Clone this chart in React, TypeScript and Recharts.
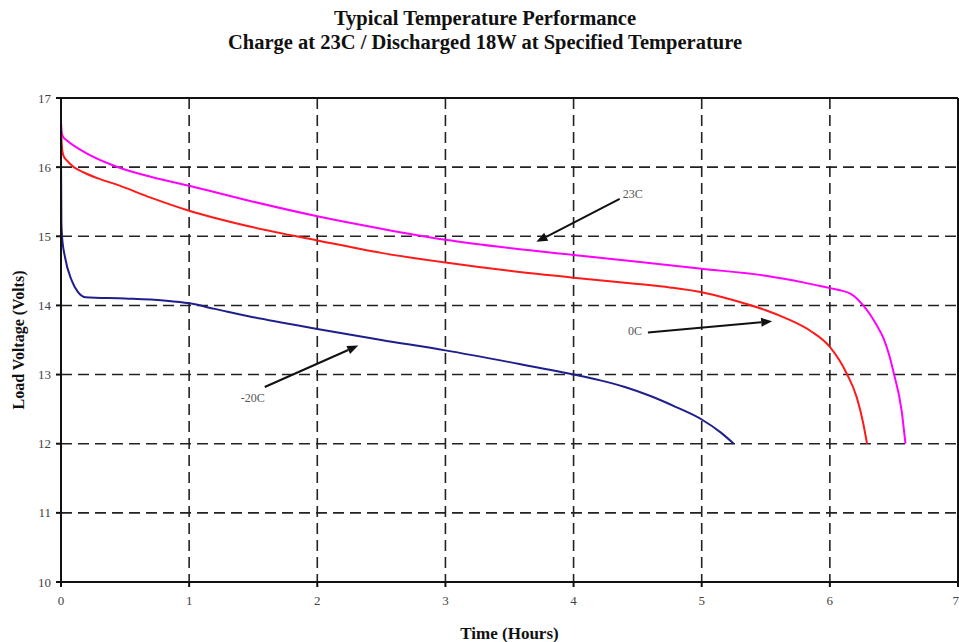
import { CartesianGrid, Line, LineChart, ReferenceLine, XAxis, YAxis } from "recharts"

// 23C discharge
const hours23 = [0, 0.005, 0.02, 0.044, 0.2, 0.43, 0.7, 1.0, 1.5, 2.0, 2.5, 3.0, 3.5, 4.0, 4.5, 5.0, 5.5, 5.8, 6.0, 6.1, 6.16, 6.21, 6.26, 6.31, 6.36, 6.42, 6.46, 6.5, 6.56, 6.59]
const volts23 = [16.66, 16.5, 16.43, 16.39, 16.2, 16.01, 15.86, 15.73, 15.5, 15.29, 15.11, 14.95, 14.83, 14.73, 14.63, 14.53, 14.43, 14.33, 14.25, 14.21, 14.17, 14.1, 14.0, 13.88, 13.73, 13.52, 13.3, 13.01, 12.48, 12.0]

// 0C discharge
const hours0 = [0, 0.005, 0.018, 0.044, 0.1, 0.17, 0.3, 0.43, 0.7, 1.0, 1.5, 2.0, 2.5, 3.0, 3.5, 4.0, 4.5, 4.75, 5.0, 5.2, 5.35, 5.5, 5.65, 5.85, 6.0, 6.13, 6.21, 6.26, 6.29]
const volts0 = [16.62, 16.35, 16.17, 16.1, 16.0, 15.93, 15.83, 15.75, 15.56, 15.37, 15.13, 14.94, 14.76, 14.62, 14.5, 14.4, 14.31, 14.26, 14.19, 14.1, 14.02, 13.93, 13.82, 13.63, 13.4, 13.02, 12.67, 12.3, 12.0]

// -20C discharge
const hoursM20 = [0, 0.003, 0.008, 0.031, 0.084, 0.13, 0.19, 0.5, 0.8, 1.0, 1.2, 1.5, 2.0, 2.5, 3.0, 3.5, 4.0, 4.2, 4.4, 4.6, 4.8, 5.0, 5.15, 5.25]
const voltsM20 = [16.17, 15.2, 15.0, 14.7, 14.36, 14.2, 14.12, 14.1, 14.07, 14.03, 13.95, 13.83, 13.66, 13.5, 13.35, 13.18, 13.0, 12.92, 12.82, 12.69, 12.53, 12.35, 12.16, 12.0]

const xTicks = [0, 1, 2, 3, 4, 5, 6, 7]
const yTicks = [10, 11, 12, 13, 14, 15, 16, 17]

const toPoints = (hours: number[], volts: number[]) => hours.map((t, i) => ({ t, v: volts[i] }))

const serif = "'Liberation Serif', 'Times New Roman', serif"

const arrow = (text: string, dx: number, dy: number, anchor: "start" | "end") => (props: any) => {
  const { x1, y1, x2, y2 } = props
  const a = Math.atan2(y2 - y1, x2 - x1)
  const len = 11
  const w = 4.5
  const bx = x2 - len * Math.cos(a)
  const by = y2 - len * Math.sin(a)
  const p1 = `${bx + w * Math.sin(a)},${by - w * Math.cos(a)}`
  const p2 = `${bx - w * Math.sin(a)},${by + w * Math.cos(a)}`
  return (
    <g>
      <line x1={x1} y1={y1} x2={bx} y2={by} stroke="#111" strokeWidth={2} />
      <polygon points={`${x2},${y2} ${p1} ${p2}`} fill="#111" />
      <text x={x1 + dx} y={y1 + dy} textAnchor={anchor} dominantBaseline="middle" fontFamily={serif} fontSize={12} fill="#555">
        {text}
      </text>
    </g>
  )
}

export default function App() {
  return (
    <div style={{ position: "absolute", left: 0, top: 0, width: 959, height: 642, background: "#fff" }}>
      <div style={{ position: "absolute", left: 0, top: 6, width: 970, textAlign: "center", fontFamily: serif, fontWeight: "bold", fontSize: 20.5, lineHeight: "24px", color: "#111" }}>
        <div>Typical Temperature Performance</div>
        <div>Charge at 23C / Discharged 18W at Specified Temperature</div>
      </div>
      <LineChart width={959} height={642} margin={{ top: 98, right: 1, left: 0, bottom: 0 }}>
        <CartesianGrid stroke="#222" strokeWidth={1.6} strokeDasharray="11 6" />
        <XAxis
          dataKey="t"
          type="number"
          domain={[0, 7]}
          ticks={xTicks}
          height={60}
          stroke="#111"
          strokeWidth={2}
          tickSize={5}
          tickMargin={9}
          tick={{ fontFamily: serif, fontSize: 13, fill: "#444" }}
          label={{ value: "Time (Hours)", position: "insideBottom", offset: 3, style: { fontFamily: serif, fontWeight: "bold", fontSize: 17, fill: "#111" } }}
        />
        <YAxis
          dataKey="v"
          type="number"
          domain={[10, 17]}
          ticks={yTicks}
          width={61}
          stroke="#111"
          strokeWidth={2}
          tickSize={5}
          tickMargin={5}
          tick={{ fontFamily: serif, fontSize: 13, fill: "#444" }}
          label={{ value: "Load Voltage (Volts)", angle: -90, position: "insideLeft", offset: 18, style: { textAnchor: "middle", fontFamily: serif, fontWeight: "bold", fontSize: 16, fill: "#111" } }}
        />
        <ReferenceLine y={17} stroke="#111" strokeWidth={2} />
        <ReferenceLine x={7} stroke="#111" strokeWidth={2} />
        <Line data={toPoints(hours23, volts23)} dataKey="v" type="monotone" stroke="#ff00ff" strokeWidth={2} dot={false} isAnimationActive={false} />
        <Line data={toPoints(hours0, volts0)} dataKey="v" type="monotone" stroke="#ff1a1a" strokeWidth={2} dot={false} isAnimationActive={false} />
        <Line data={toPoints(hoursM20, voltsM20)} dataKey="v" type="monotone" stroke="#1f1f8c" strokeWidth={2} dot={false} isAnimationActive={false} />
        <ReferenceLine segment={[{ x: 4.36, y: 15.54 }, { x: 3.71, y: 14.92 }]} shape={arrow("23C", 3, -4, "start")} />
        <ReferenceLine segment={[{ x: 4.58, y: 13.61 }, { x: 5.55, y: 13.77 }]} shape={arrow("0C", -6, 0, "end")} />
        <ReferenceLine segment={[{ x: 1.59, y: 12.82 }, { x: 2.32, y: 13.42 }]} shape={arrow("-20C", 0, 12, "end")} />
      </LineChart>
    </div>
  )
}
